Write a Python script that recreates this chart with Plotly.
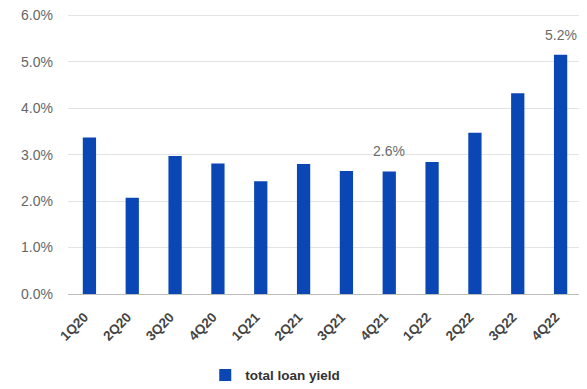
import plotly.graph_objects as go

quarters = ["1Q20", "2Q20", "3Q20", "4Q20", "1Q21", "2Q21", "3Q21", "4Q21",
            "1Q22", "2Q22", "3Q22", "4Q22"]
loan_yield = [3.37, 2.07, 2.97, 2.81, 2.43, 2.80, 2.65, 2.64, 2.84, 3.47, 4.32, 5.15]
labelled = ["4Q21", "4Q22"]
y_ticks = [0, 1, 2, 3, 4, 5, 6]

fig = go.Figure()
fig.add_trace(go.Bar(
    x=quarters, y=loan_yield, name="total loan yield",
    marker=dict(color="#0b47b4", line=dict(width=0)),
))

for q, v in zip(quarters, loan_yield):
    if q in labelled:
        fig.add_annotation(x=q, y=v, text=f"{v:.1f}%", showarrow=False,
                           yanchor="bottom", yshift=10,
                           font=dict(size=14, color="#6b6b6b"))

fig.update_layout(
    width=579, height=381,
    margin=dict(l=60, r=5, t=5, b=95, autoexpand=False),
    paper_bgcolor="white", plot_bgcolor="white",
    font=dict(family="Liberation Sans, Arial, sans-serif", color="#555"),
    bargap=0.69,
    showlegend=True,
    legend=dict(orientation="h", x=0.267, xanchor="left",
                yref="container", y=0.036, yanchor="middle",
                itemwidth=30,
                font=dict(size=13.5, color="#333", weight="bold")),
    xaxis=dict(tickangle=-45, tickfont=dict(size=13.5, color="#444", weight="bold"),
               showline=True, linecolor="#bdbdbd", linewidth=1,
               ticks="", ticklabelstandoff=9, ticklabelshift=-5,
               automargin=False),
    yaxis=dict(range=[0, 6.05], tickvals=y_ticks,
               ticktext=[f"{t:.1f}%" for t in y_ticks],
               tickfont=dict(size=14, color="#666"),
               ticklabeloverflow="allow", ticklabelstandoff=14,
               gridcolor="#e3e3e3", gridwidth=1, zeroline=False,
               ticks="", ticklen=0, automargin=False),
)

fig.write_html("out.html")
